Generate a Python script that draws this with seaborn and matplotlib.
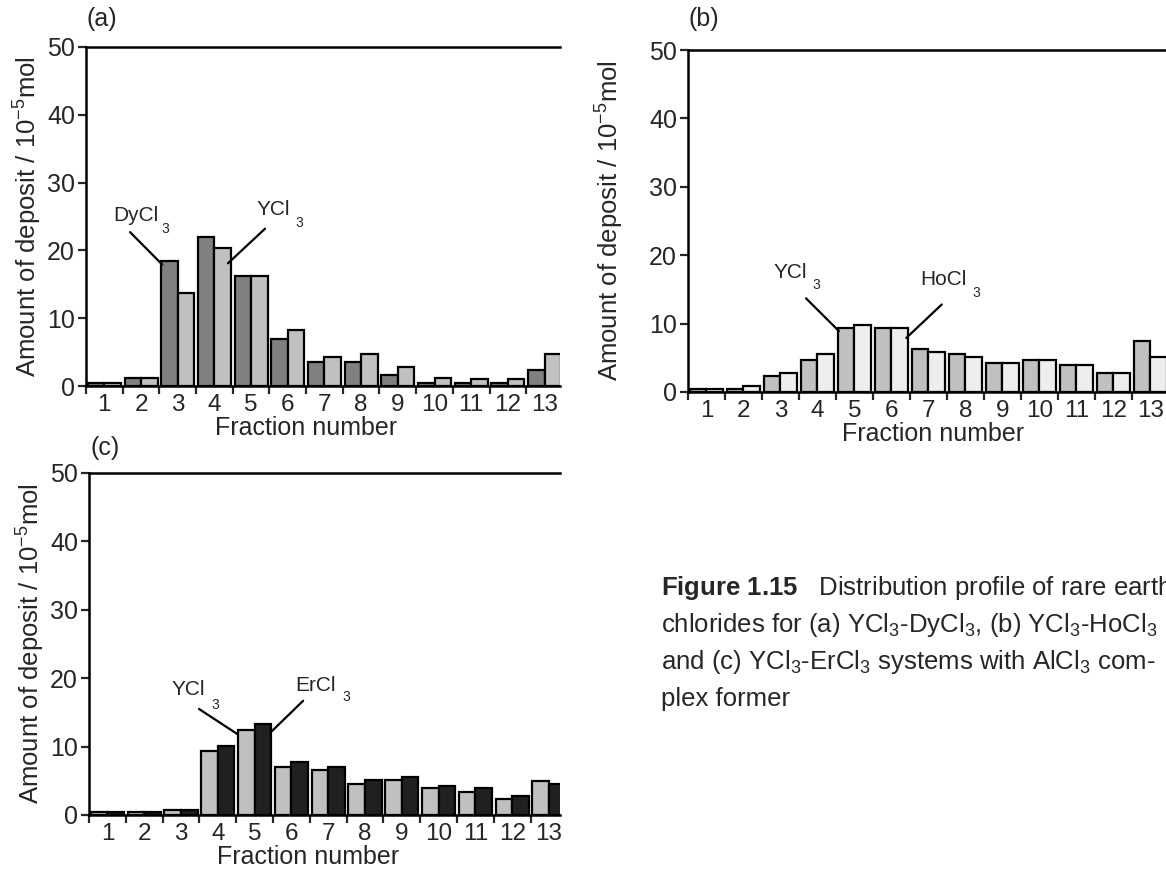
import numpy as np
import pandas as pd
import matplotlib
matplotlib.use("Agg")
import matplotlib.pyplot as plt
import seaborn as sns

# fractions 1..13, amount of deposit in 1e-5 mol
fractions = list(range(1, 14))

a_dycl3 = [0.4, 1.2, 18.4, 22.0, 16.2, 7.0, 3.5, 3.5, 1.6, 0.5, 0.5, 0.5, 2.4]
a_ycl3 = [0.4, 1.2, 13.7, 20.4, 16.2, 8.2, 4.3, 4.7, 2.8, 1.2, 1.0, 1.0, 4.7]

b_ycl3 = [0.5, 0.5, 2.4, 4.7, 9.4, 9.4, 6.3, 5.5, 4.3, 4.7, 4.0, 2.8, 7.5]
b_hocl3 = [0.5, 0.9, 2.8, 5.5, 9.8, 9.4, 5.9, 5.1, 4.3, 4.7, 4.0, 2.8, 5.1]

c_ycl3 = [0.4, 0.4, 0.7, 9.3, 12.4, 7.0, 6.6, 4.6, 5.1, 3.9, 3.4, 2.3, 5.0]
c_ercl3 = [0.4, 0.4, 0.7, 10.1, 13.3, 7.8, 7.0, 5.1, 5.5, 4.2, 3.9, 2.8, 4.6]

W, H = 1166, 873
sns.set_style("ticks")
plt.rcParams["font.family"] = ["Liberation Sans", "DejaVu Sans"]
plt.rcParams["mathtext.fontset"] = "custom"
plt.rcParams["mathtext.rm"] = "Liberation Sans"
plt.rcParams["mathtext.it"] = "Liberation Sans:italic"
plt.rcParams["mathtext.bf"] = "Liberation Sans:bold"

fig = plt.figure(figsize=(W / 100, H / 100), dpi=100)


def pix_axes(left, right, top, bottom):
    return fig.add_axes([left / W, 1 - bottom / H, (right - left) / W, (bottom - top) / H])


def draw_panel(ax, s1, s2, names, colors, xmax, ylab_x, xlab_x):
    df = pd.DataFrame({
        "fraction": fractions * 2,
        "amount": s1 + s2,
        "compound": [names[0]] * len(fractions) + [names[1]] * len(fractions),
    })
    sns.barplot(data=df, x="fraction", y="amount", hue="compound", hue_order=names,
                palette=colors, width=0.9, gap=0, edgecolor="black", linewidth=1.6,
                saturation=1, errorbar=None, legend=False, ax=ax)
    ax.set_xlim(-0.5, xmax)
    ax.set_ylim(0, 50)
    ax.set_yticks([0, 10, 20, 30, 40, 50])
    ax.set_xticks(np.arange(-0.5, 12.5, 1))
    ax.set_xticklabels([])
    ax.set_xticks(np.arange(13), minor=True)
    ax.set_xticklabels([str(f) for f in fractions], minor=True)
    ax.tick_params(axis="x", which="major", direction="out", length=6, width=1.6)
    ax.tick_params(axis="x", which="minor", length=0, labelsize=17.5, pad=6)
    ax.tick_params(axis="y", direction="out", length=6, width=1.6, labelsize=18, pad=2)
    for side in ["left", "top", "bottom"]:
        ax.spines[side].set_linewidth(1.8)
        ax.spines[side].set_color("black")
    ax.spines["right"].set_visible(False)
    ax.set_xlabel("Fraction number", fontsize=18, labelpad=0)
    ax.xaxis.label.set_x(xlab_x)
    ax.set_ylabel("Amount of deposit / 10$^{-5}$mol", fontsize=18.5)
    ax.yaxis.set_label_coords(ylab_x, 0.5)


def label(ax, txt, tx, ty, sx, sy, line):
    # fraction-number coords -> categorical positions (index = fraction - 1)
    ax.text(tx - 1, ty, txt, fontsize=15, ha="left", va="center")
    ax.text(sx - 1, sy, "3", fontsize=10, ha="left", va="center")
    (x0, y0), (x1, y1) = line
    ax.plot([x0 - 1, x1 - 1], [y0, y1], color="black", lw=1.6, clip_on=False)


ax_a = pix_axes(86, 560, 47, 386)
draw_panel(ax_a, a_dycl3, a_ycl3, ["DyCl3", "YCl3"], ["#808080", "#c0c0c0"], 12.42, -0.088, 0.464)
label(ax_a, "DyCl", 1.24, 25.2, 2.55, 23.1, [(1.70, 22.7), (2.58, 17.9)])
label(ax_a, "YCl", 5.16, 26.0, 6.2, 24.0, [(5.38, 23.2), (4.37, 18.1)])

ax_b = pix_axes(688, 1166, 50, 392)
draw_panel(ax_b, b_ycl3, b_hocl3, ["YCl3", "HoCl3"], ["#c0c0c0", "#eeeeee"], 12.42, -0.13, 0.513)
label(ax_b, "YCl", 2.80, 17.5, 3.85, 15.6, [(3.69, 13.7), (4.58, 8.9)])
label(ax_b, "HoCl", 6.77, 16.5, 8.2, 14.5, [(7.36, 12.8), (6.40, 7.9)])

ax_c = pix_axes(89, 560, 473, 815)
draw_panel(ax_c, c_ycl3, c_ercl3, ["YCl3", "ErCl3"], ["#c0c0c0", "#202020"], 12.3, -0.09, 0.465)
label(ax_c, "YCl", 2.73, 18.3, 3.82, 16.1, [(3.49, 15.5), (4.54, 11.8)])
label(ax_c, "ErCl", 6.10, 19.0, 7.38, 17.3, [(6.32, 16.7), (5.42, 12.0)])

fig.text(87 / W, 1 - 19 / H, "(a)", fontsize=18, ha="left", va="center")
fig.text(689 / W, 1 - 19 / H, "(b)", fontsize=18, ha="left", va="center")
fig.text(90 / W, 1 - 448 / H, "(c)", fontsize=18, ha="left", va="center")

caption = [
    r"$\mathbf{Figure\ 1.15}$   Distribution profile of rare earth",
    r"chlorides for (a) YCl$_3$-DyCl$_3$, (b) YCl$_3$-HoCl$_3$",
    r"and (c) YCl$_3$-ErCl$_3$ systems with AlCl$_3$ com-",
    "plex former",
]
for i, line in enumerate(caption):
    fig.text(661 / W, 1 - (595 + 37 * i) / H, line, fontsize=18.5, ha="left", va="baseline")

fig.savefig("out.png", dpi=100, facecolor="white")
